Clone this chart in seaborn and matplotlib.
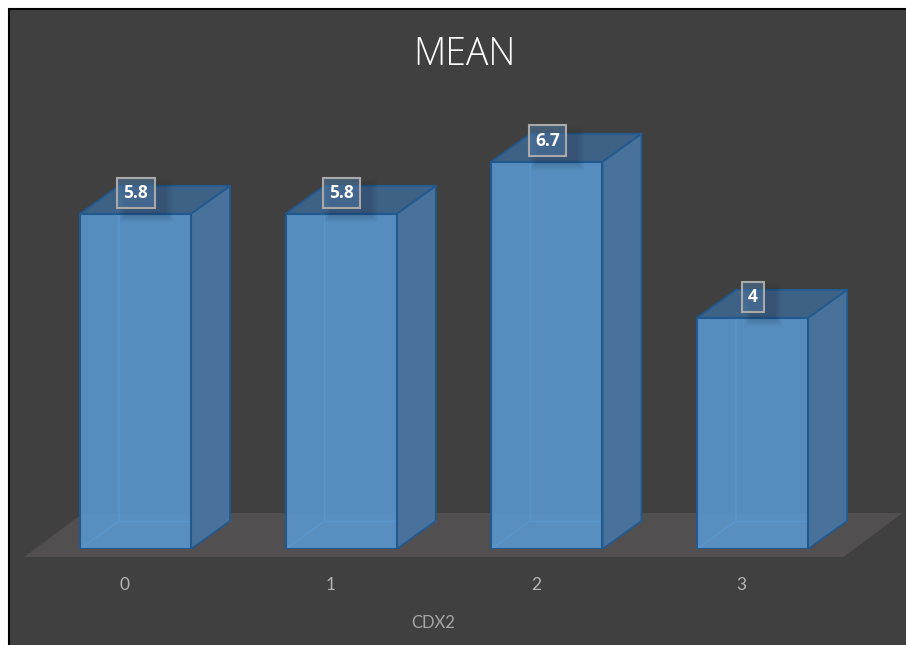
import matplotlib
matplotlib.use("Agg")
import matplotlib.pyplot as plt
import pandas as pd
import seaborn as sns
from matplotlib.patches import Polygon, Rectangle
from matplotlib.transforms import ScaledTranslation

categories = ["0", "1", "2", "3"]
means = [5.8, 5.8, 6.7, 4]
value_labels = ["5.8", "5.8", "6.7", "4"]

BG = "#404040"
FLOOR = "#514f4f"
EDGE = "#22598f"
FRONT = (0.357, 0.608, 0.835, 0.85)
SIDE = "#48719b"
TOP = "#3e6285"
FONT = "Lato"
HEAD_FONT = "Open Sans"

W, H, DPI = 906, 645, 100
LEFT, BASE = 9, 549              # pixel position of the axes' left edge and baseline
PX_PER_CAT = 205.7
PX_PER_UNIT = 57.8
CAT0_PX = 135.5

sns.set_theme(style="white")
plt.rcParams["font.family"] = FONT

fig = plt.figure(figsize=(W / DPI, H / DPI), dpi=DPI, facecolor="white")
fig.add_artist(Rectangle((8.5 / W, -0.1), 1.2, 1.1 - 9.5 / H, transform=fig.transFigure,
                         facecolor=BG, edgecolor="black", linewidth=1.5, zorder=-5))

ax = fig.add_axes([LEFT / W, 1 - BASE / H, 1 - LEFT / W, BASE / H])
ax.patch.set_alpha(0)

df = pd.DataFrame({"CDX2": categories, "MEAN": means})
sns.barplot(data=df, x="CDX2", y="MEAN", color="#5b9bd5", saturation=1, width=0.54, ax=ax)

ax.set_xlim((LEFT - CAT0_PX) / PX_PER_CAT, (W - CAT0_PX) / PX_PER_CAT)
ax.set_ylim(0, BASE / PX_PER_UNIT)


def dx(px):
    return px / PX_PER_CAT


def dy(px):
    return px / PX_PER_UNIT


DEPTH_X, DEPTH_Y = dx(39), dy(28)

# Ground plane under the columns
first, last = 0, len(categories) - 1
fl = first - dx(111.5)
fr = last + dx(91)
ax.add_patch(Polygon([(fl, dy(-8)), (fr, dy(-8)), (fr + dx(59), dy(36)), (fl + dx(59), dy(36))],
                     closed=True, facecolor=FLOOR, edgecolor="none", zorder=0.5, clip_on=False))

for i, bar in enumerate(ax.patches[:len(means)]):
    x0, x1 = bar.get_x(), bar.get_x() + bar.get_width()
    v = bar.get_height()

    # Hidden back edges, seen faintly through the translucent front
    ax.plot([x0, x0 + DEPTH_X, x0 + DEPTH_X], [0, DEPTH_Y, v + DEPTH_Y],
            color="#4f7fae", lw=1.0, zorder=1, solid_joinstyle="miter")
    ax.plot([x0 + DEPTH_X, x1 + DEPTH_X], [DEPTH_Y, DEPTH_Y], color="#4f7fae", lw=1.0, zorder=1)

    # Extruded faces of the column
    ax.add_patch(Polygon([(x1, 0), (x1 + DEPTH_X, DEPTH_Y), (x1 + DEPTH_X, v + DEPTH_Y), (x1, v)],
                         closed=True, facecolor=SIDE, edgecolor=EDGE, lw=1.3, zorder=2,
                         joinstyle="round"))
    ax.add_patch(Polygon([(x0, v), (x1, v), (x1 + DEPTH_X, v + DEPTH_Y), (x0 + DEPTH_X, v + DEPTH_Y)],
                         closed=True, facecolor=TOP, edgecolor=EDGE, lw=1.3, zorder=2,
                         joinstyle="round"))

    bar.set_facecolor(FRONT)
    bar.set_edgecolor(EDGE)
    bar.set_linewidth(1.5)
    bar.set_zorder(3)

    # Soft shadow cast by the value label
    half = dx(20 if len(value_labels[i]) > 1 else 12)
    for grow in range(8):
        ax.add_patch(Rectangle((i + dx(10) - half - dx(grow), v - dy(1 + grow)),
                               2 * half + 2 * dx(grow), dy(30) + 2 * dy(grow),
                               facecolor="#1c2c3c", edgecolor="none", alpha=0.028, zorder=4))

    ax.annotate(value_labels[i], xy=(i, v), xytext=(0.5, 21), textcoords="offset pixels",
                ha="center", va="center", color="white", fontsize=12.5, fontweight="bold",
                family=HEAD_FONT, zorder=6,
                bbox=dict(boxstyle="square,pad=0.36", facecolor=(0.30, 0.47, 0.64, 0.55),
                          edgecolor="#a9a9a9", linewidth=1.5))

# Axis text; the category labels sit under the front of the ground plane
ax.set_xticks(range(len(categories)), categories)
ax.tick_params(axis="x", length=0, pad=20, labelsize=12.5, labelcolor="#b5b5b5")
shift = ScaledTranslation(-11 / DPI, 0, fig.dpi_scale_trans)
for label in ax.get_xticklabels():
    label.set_transform(label.get_transform() + shift)
ax.set_yticks([])
ax.set_ylabel("")
ax.set_xlabel("CDX2", fontsize=12, color="#a6a6a6")
ax.xaxis.set_label_coords((433 - LEFT) / (W - LEFT), -(623 - BASE) / BASE, ax.transAxes)
ax.xaxis.label.set_va("center")
sns.despine(ax=ax, left=True, bottom=True)

fig.text(464 / W, 1 - 55 / H, "MEAN", ha="center", va="center", color="white",
         fontsize=27, fontweight="light", family=HEAD_FONT)

fig.savefig("out.png", dpi=DPI, facecolor=fig.get_facecolor())
